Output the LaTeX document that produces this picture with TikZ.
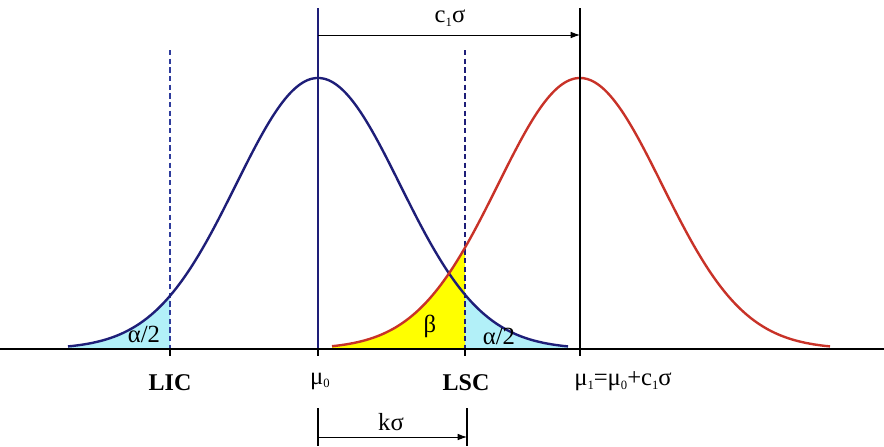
\documentclass[tikz,border=0pt]{standalone}
\usepackage{fontspec}
\setmainfont{Liberation Serif}
\usetikzlibrary{arrows.meta}
\definecolor{navyc}{HTML}{1E1E78}
\definecolor{redc}{HTML}{C83228}
\definecolor{cyanf}{HTML}{B2F0F8}
\definecolor{yellowf}{HTML}{FFFF00}
\definecolor{dashb}{HTML}{2E3C9C}
\newcommand\sbs[1]{\raisebox{-0.35ex}{\fontsize{9.5}{9.5}\selectfont #1}}
\tikzset{
  curve/.style={line width=1.8pt},
  vline/.style={line width=0.9pt},
  dline/.style={line width=0.8pt, dash pattern=on 4pt off 2.5pt},
  dimarrow/.style={line width=0.7pt, -{Latex[length=7pt,width=5pt]}},
  lbl/.style={font=\fontsize{18.5}{18.5}\selectfont, inner sep=0pt},
  blbl/.style={font=\fontsize{18}{18}\selectfont\bfseries, inner sep=0pt},
}
\begin{document}
\begin{tikzpicture}[x=0.75pt,y=-0.75pt]
\useasboundingbox (0,0) rectangle (884,446);
% fills
\fill[cyanf] (68,349) -- plot[domain=68:170,samples=40,smooth] (\x,{349-271*exp(-((\x-318)/82)^2/2)}) -- (170,349) -- cycle;
\fill[cyanf] (465,349) -- plot[domain=465:568,samples=40,smooth] (\x,{349-271*exp(-((\x-318)/82)^2/2)}) -- (568,349) -- cycle;
\fill[yellowf] (332,349) -- plot[domain=332:465,samples=50,smooth] (\x,{349-271*exp(-((\x-580)/82)^2/2)}) -- (465,349) -- cycle;
% dashed control limits
\draw[dline,dashb] (170,50) -- (170,349);
\draw[dline,navyc] (465,50) -- (465,349);
% curves
\draw[curve,navyc] plot[domain=68:568,samples=120,smooth] (\x,{349-271*exp(-((\x-318)/82)^2/2)});
\draw[curve,redc] plot[domain=332:830,samples=120,smooth] (\x,{349-271*exp(-((\x-580)/82)^2/2)});
% mean lines
\coordinate (m0top) at (318,8);
\coordinate (m0) at (318,349);
\coordinate (m1top) at (580,8);
\coordinate (m1) at (580,349);
\draw[vline,navyc] (m0top) -- (m0);
\draw[vline,black] (m1top) -- (m1);
% axis
\coordinate (axl) at (0,349);
\coordinate (axr) at (884,349);
\draw[line width=1.8pt] (axl) -- (axr);
\foreach \t in {170,318,465,580} \draw[line width=1.2pt] (\t,349) -- (\t,356);
% c1 sigma arrow
\coordinate (ca) at (318,35);
\coordinate (cb) at (580,35);
\draw[dimarrow] (ca) -- (cb);
\node[lbl] (c1s) at (450,18) {c\sbs{1}σ};
% k sigma
\coordinate (ka1) at (318,408);
\coordinate (ka2) at (318,446);
\coordinate (kb1) at (467,408);
\coordinate (kb2) at (467,446);
\draw[vline] (ka1) -- (ka2);
\draw[vline] (kb1) -- (kb2);
\coordinate (kl) at (318,437);
\coordinate (kr) at (467,437);
\draw[dimarrow] (kl) -- (kr);
\node[lbl] (ks) at (391,422) {kσ};
% labels
\node[blbl] (lic) at (170,383) {LIC};
\node[lbl] (mu0) at (320,381) {μ\sbs{0}};
\node[blbl] (lsc) at (466,383) {LSC};
\node[lbl,anchor=west] (mu1) at (574,381) {μ\sbs{1}=μ\sbs{0}+c\sbs{1}σ};
\node[lbl] (a1) at (144,334) {α/2};
\node[lbl] (a2) at (499,336) {α/2};
\node[lbl] (b) at (430,326) {β};
\end{tikzpicture}
\end{document}
